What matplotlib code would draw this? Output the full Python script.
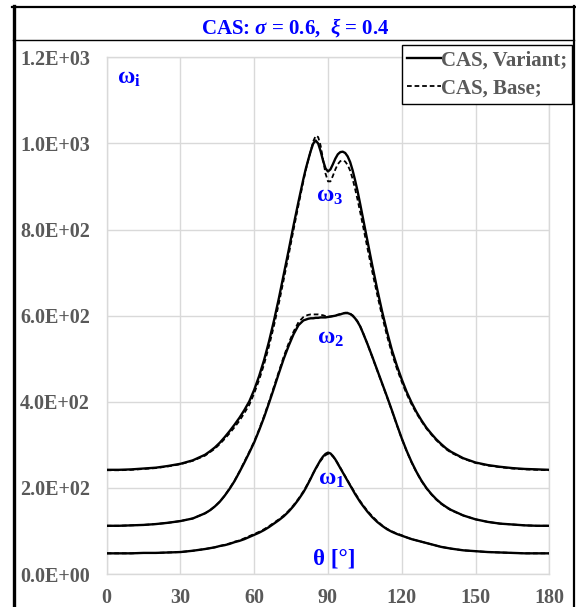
import matplotlib
matplotlib.use('Agg')
import matplotlib.pyplot as plt
from matplotlib.lines import Line2D
from matplotlib.ticker import FuncFormatter

plt.rcParams['font.family'] = ['Liberation Serif', 'DejaVu Serif']
plt.rcParams['font.weight'] = 'bold'
plt.rcParams['mathtext.fontset'] = 'custom'
plt.rcParams['mathtext.rm'] = 'Liberation Serif:bold'
plt.rcParams['mathtext.it'] = 'Liberation Serif:bold:italic'
plt.rcParams['mathtext.bf'] = 'Liberation Serif:bold'

# ---------------- data ----------------
theta = [0, 5, 10, 15, 20, 25, 30, 35, 40,
         42, 44, 46, 48, 50, 52, 54, 56, 58, 60, 62, 64, 66, 68, 70, 72, 74, 76, 78, 80,
         81, 82, 83, 84, 85, 86, 87, 88, 89, 90, 91, 92, 93, 94, 95, 96, 97, 98, 99,
         100, 101, 102, 103, 104,
         106, 108, 110, 112, 114, 116, 118, 120, 122, 124, 126, 128, 130, 132, 134,
         136, 138, 140,
         145, 150, 155, 160, 165, 170, 175, 180]

w3_variant = [242, 242, 243, 245, 247, 251, 256, 264, 277,
              285, 294, 305, 318, 332, 347, 363, 381, 401, 428, 460, 497, 540, 588,
              640, 696, 752, 810, 865, 918,
              942, 963, 983, 1000, 1007, 1000, 982, 960, 942, 935, 940, 952, 965, 975,
              980, 981, 978, 970, 957, 938, 915, 890, 862, 833,
              775, 717, 662, 610, 563, 520, 484, 452, 423, 398, 376, 357, 340, 326, 313,
              302, 292, 284,
              269, 259, 253, 249, 246, 244, 243, 242]
w3_base = [241, 241, 242, 244, 246, 250, 255, 263, 275,
           283, 291, 302, 314, 327, 341, 356, 374, 393, 420, 451, 487, 529, 576,
           628, 684, 741, 800, 857, 913,
           939, 962, 984, 1005, 1018, 1015, 995, 962, 930, 912, 912, 925, 940, 952,
           959, 961, 958, 950, 937, 918, 895, 870, 843, 815,
           758, 702, 649, 599, 553, 512, 477, 446, 418, 394, 373, 355, 338, 324, 311,
           300, 290, 282,
           268, 258, 252, 248, 245, 243, 242, 241]

w2_variant = [112, 112, 113, 114, 116, 119, 123, 129, 141,
              148, 157, 168, 182, 198, 216, 237, 259, 282, 306, 334, 364, 397, 431,
              466, 500, 530, 557, 578, 589,
              591, 593, 594, 594, 595, 595, 596, 596, 596, 597, 598, 599, 600, 602,
              603, 605, 606, 606, 604, 600, 594, 586, 576, 563,
              535, 505, 474, 443, 412, 380, 347, 315, 286, 260, 237, 217, 200, 186, 174,
              164, 156, 149,
              136, 127, 121, 117, 115, 113, 112, 112]
w2_base = [112, 112, 113, 114, 116, 119, 123, 129, 141,
           148, 157, 168, 182, 199, 217, 238, 261, 284, 308, 336, 367, 400, 435,
           470, 505, 536, 563, 585, 597,
           600, 602, 603, 603, 603, 603, 602, 601, 599, 598, 598, 599, 600, 602,
           604, 606, 607, 607, 605, 601, 595, 587, 577, 564,
           535, 504, 473, 442, 411, 379, 346, 314, 285, 259, 236, 216, 199, 185, 173,
           163, 155, 148,
           136, 127, 121, 117, 115, 113, 112, 112]

w1_variant = [48, 48, 48, 49, 49, 50, 51, 54, 58,
              60, 62, 65, 67, 70, 74, 77, 81, 86, 91, 96, 102, 109, 117,
              125, 134, 145, 158, 173, 190,
              200, 211, 222, 234, 245, 255, 265, 273, 279, 282, 280, 274, 266, 256,
              246, 236, 226, 216, 206, 196, 186, 177, 168, 160,
              145, 132, 121, 112, 104, 98, 93, 89, 85, 81, 78, 75, 72, 69, 66,
              63, 61, 59,
              55, 53, 51, 50, 49, 48, 48, 48]
w1_base = [48, 48, 48, 49, 49, 50, 51, 54, 58,
           60, 62, 65, 68, 71, 75, 78, 83, 88, 93, 98, 104, 111, 119,
           127, 136, 147, 160, 175, 192,
           202, 212, 223, 234, 244, 254, 263, 270, 276, 279, 278, 273, 266, 257,
           247, 237, 227, 217, 207, 198, 188, 179, 170, 162,
           147, 134, 123, 113, 105, 99, 94, 90, 85, 81, 78, 75, 72, 69, 66,
           63, 61, 59,
           55, 53, 51, 50, 49, 48, 48, 48]

x_ticks = [0, 30, 60, 90, 120, 150, 180]
y_ticks = [0, 200, 400, 600, 800, 1000, 1200]
legend_labels = ['CAS, Variant;', 'CAS, Base;']
title_text = r'CAS: $\mathit{σ}$ = 0.6,  $\mathit{ξ}$ = 0.4'

# ---------------- figure ----------------
W, H = 576, 607
fig = plt.figure(figsize=(W / 100, H / 100), dpi=100)
fig.patch.set_facecolor('white')


def fx(px):
    return px / W


def fy(py):
    return 1 - py / H


ax_left, ax_right, ax_top, ax_bottom = 106.7, 549.3, 57.4, 574.0
ax = fig.add_axes([fx(ax_left), fy(ax_bottom), (ax_right - ax_left) / W,
                   (ax_bottom - ax_top) / H])

dash = (0, (2.6, 1.6))
for var, base in [(w3_variant, w3_base), (w2_variant, w2_base), (w1_variant, w1_base)]:
    ax.plot(theta, var, color='black', lw=1.7, solid_joinstyle='round',
            solid_capstyle='round', zorder=3)
    ax.plot(theta, base, color='black', lw=1.3, ls=dash, zorder=4)

ax.set_xlim(0, 180)
ax.set_ylim(0, 1200)
ax.set_xticks(x_ticks)
ax.set_yticks(y_ticks)
ax.yaxis.set_major_formatter(FuncFormatter(lambda v, p: '{:.1E}'.format(v)))
ax.tick_params(length=0, labelsize=14.5, labelcolor='#595959')
ax.tick_params(axis='y', pad=12)
ax.tick_params(axis='x', pad=10)
ax.grid(True, color='#d9d9d9', lw=1.0)
ax.set_axisbelow(True)
for s in ax.spines.values():
    s.set_color('#d9d9d9')
    s.set_linewidth(1.0)

# legend
handles = [Line2D([], [], color='black', lw=1.7),
           Line2D([], [], color='black', lw=1.3, ls=dash)]
leg = fig.legend(handles, legend_labels, loc='upper right',
                 bbox_to_anchor=(fx(572), fy(45)), bbox_transform=fig.transFigure,
                 fontsize=15, labelcolor='#595959', frameon=True, fancybox=False,
                 edgecolor='black', framealpha=1, borderpad=0.25, labelspacing=0.4,
                 handlelength=1.6, handletextpad=0.0, borderaxespad=0)
leg.get_frame().set_linewidth(1.0)

# annotations
blue = '#0000ff'
fig.text(fx(117), fy(84), r'$\mathrm{ω}_{\mathrm{i}}$', color=blue, fontsize=17,
         ha='left', va='baseline')
fig.text(fx(316.5), fy(202), r'$\mathrm{ω}_{\mathrm{3}}$', color=blue, fontsize=17,
         ha='left', va='baseline')
fig.text(fx(317), fy(343.5), r'$\mathrm{ω}_{\mathrm{2}}$', color=blue, fontsize=17,
         ha='left', va='baseline')
fig.text(fx(317.5), fy(484.5), r'$\mathrm{ω}_{\mathrm{1}}$', color=blue, fontsize=17,
         ha='left', va='baseline')
fig.text(fx(313), fy(565), 'θ [°]', color=blue, fontsize=16.5, ha='left', va='baseline')

# title
fig.text(fx(295), fy(34), title_text, color=blue, fontsize=15, ha='center',
         va='baseline')

# outer frame
fig.add_artist(Line2D([fx(12), fx(575)], [fy(6.5), fy(6.5)], transform=fig.transFigure,
                      color='black', lw=1.6))
fig.add_artist(Line2D([fx(13.5), fx(13.5)], [fy(6), fy(607)], transform=fig.transFigure,
                      color='black', lw=2.4))
fig.add_artist(Line2D([fx(574), fx(574)], [fy(6), fy(607)], transform=fig.transFigure,
                      color='black', lw=1.6))
fig.add_artist(Line2D([fx(13), fx(574)], [fy(40), fy(40)], transform=fig.transFigure,
                      color='black', lw=1.0))

fig.savefig('out.png', dpi=100, facecolor='white')
